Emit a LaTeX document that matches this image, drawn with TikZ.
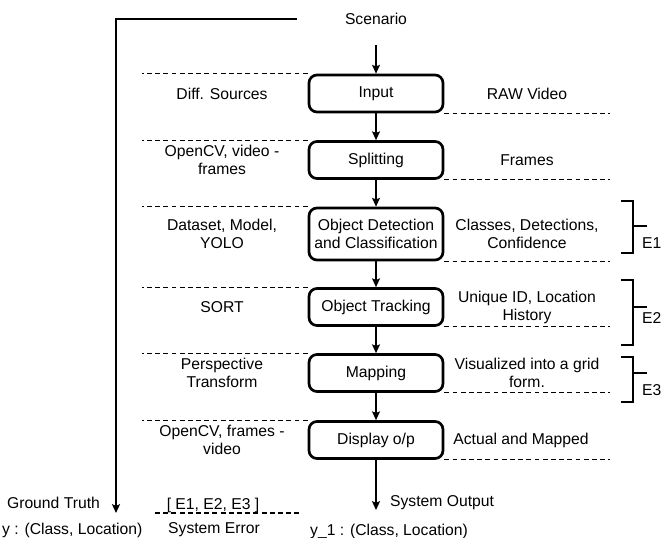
\documentclass[tikz,border=0pt]{standalone}
\usepackage{fontspec}
\setmainfont{Liberation Sans}
\usetikzlibrary{arrows.meta}
\tikzstyle{stage} = [rectangle, rounded corners=6.8pt, minimum width=4.02cm, minimum height=1.11cm, text centered, align=center, draw=black, line width=2.3pt]
\tikzstyle{flow} = [line width=1.1pt,->,>={Stealth[length=7.5pt,width=6.8pt,inset=1.4pt]}]
\tikzstyle{guide} = [line width=1pt, dash pattern=on 4.2pt off 2.8pt]
\tikzstyle{brk} = [line width=2.5pt]
\begin{document}
\begin{tikzpicture}[x=0.03cm,y=-0.03cm,font=\fontsize{13.4pt}{15.4pt}\selectfont]
	\useasboundingbox (0,0) rectangle (662,538);
	% pipeline stages
	\node (scen) at (376,19) {Scenario};
	\node[stage] (in) at (376,93.5) {Input};
	\node[stage] (spl) at (376,160) {Splitting};
	\node[stage,minimum height=1.56cm] (det) at (376,234) {Object Detection\\and Classification};
	\node[stage] (trk) at (376,307) {Object Tracking};
	\node[stage] (map) at (376,373) {Mapping};
	\node[stage] (dsp) at (376,440) {Display o/p};
	% tools (left) and outputs (right)
	\node[align=center] (lin) at (222,93.5) {Diff. Sources};
	\node[align=center] (lspl) at (222,160) {OpenCV, video -\\frames};
	\node[align=center] (ldet) at (222,234) {Dataset, Model,\\YOLO};
	\node[align=center] (ltrk) at (222,307) {SORT};
	\node[align=center] (lmap) at (222,373) {Perspective\\Transform};
	\node[align=center] (ldsp) at (222,440) {OpenCV, frames -\\video};
	\node[align=center] (rin) at (527,93.5) {RAW Video};
	\node[align=center] (rspl) at (527,160) {Frames};
	\node[align=center] (rdet) at (527,234) {Classes, Detections,\\Confidence};
	\node[align=center] (rtrk) at (527,307) {Unique ID, Location\\History};
	\node[align=center] (rmap) at (527,373) {Visualized into a grid\\form.};
	\node[align=center] (rdsp) at (521,440) {Actual and Mapped};
	\coordinate (lftend) at (142,0);
	\coordinate (rgtend) at (610,0);
	\foreach \b in {in,spl,det,trk,map,dsp} {
		\draw[guide] (\b.north west) -- (\b.north west -| lftend);
		\draw[guide] (\b.south east) -- (\b.south east -| rgtend);
	}
	% arrows
	\coordinate (scenarr) at (376,45);
	\draw[flow] (scenarr) -- (in);
	\foreach \a/\b in {in/spl,spl/det,det/trk,trk/map,map/dsp}
	\draw[flow] (\a) -- (\b);
	\coordinate (sysout) at (376,510);
	\draw[flow] (dsp) -- (sysout);
	\coordinate (gtline) at (297,19);
	\coordinate (gt) at (116,513);
	\draw[flow] (gtline) -| (gt);
	% error brackets
	\foreach \t/\u/\m/\l/\n/\e in {201/253/226/243/e1/E1,280/345/307/318/e2/E2,357/402/373/390/e3/E3} {
		\draw[brk] (621,\t) -- (633,\t) -- (633,\u) -- (621,\u);
		\draw[brk] (633,\m) -- (647,\m);
		\node[anchor=west,inner sep=0pt] (\n) at (642,\l) {\e};
	}
	% bottom row
	\node[anchor=east] (gtlab) at (104,503) {Ground Truth};
	\node (errs) at (213,505) {[ E1, E2, E3 ]};
	\coordinate (errl) at (155,513);
	\coordinate (errr) at (302,513);
	\draw[guide] (errl) -- (errr);
	\node[anchor=west] (outlab) at (386,503) {System Output};
	\node[anchor=west,inner sep=0pt] (ylab) at (2,530) {y : (Class, Location)};
	\node (errlab) at (214,530) {System Error};
	\node (y1lab) at (389,531) {y\_1 : (Class, Location)};
\end{tikzpicture}
\end{document}
